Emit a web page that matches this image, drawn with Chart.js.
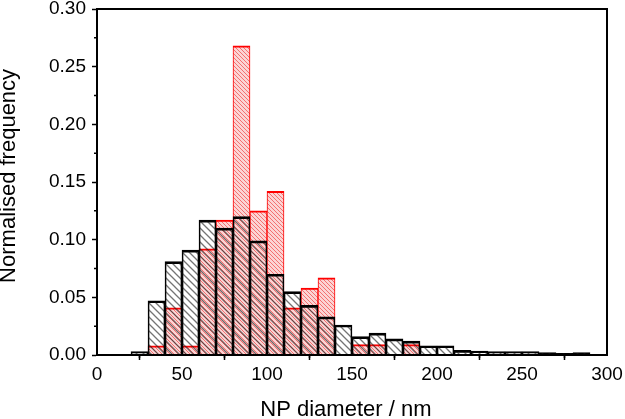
<!DOCTYPE html>
<html>
<head>
<meta charset="utf-8">
<script src="https://cdn.jsdelivr.net/npm/chart.js@4.4.1/dist/chart.umd.min.js"></script>
<style>
  html, body { margin: 0; padding: 0; background: #fff; }
  #wrap { width: 625px; height: 419px; }
</style>
</head>
<body>
<div id="wrap"><canvas id="histChart" width="625" height="419"></canvas></div>
<script>
// Histogram of NP diameters, 10 nm bins

const binStarts = [20, 30, 40, 50, 60, 70, 80, 90, 100, 110, 120, 130, 140, 150, 160, 170, 180, 190, 200, 210, 220, 230, 240, 250, 260, 270, 280];
const blackFreq = [0.003, 0.047, 0.081, 0.091, 0.117, 0.110, 0.120, 0.099, 0.070, 0.055, 0.043, 0.033, 0.026, 0.016, 0.019, 0.014, 0.012, 0.008, 0.008, 0.004, 0.0035, 0.003, 0.003, 0.003, 0.002, 0.0015, 0.002];
const redFreq   = [0, 0.008, 0.041, 0.008, 0.092, 0.117, 0.268, 0.125, 0.142, 0.041, 0.058, 0.067, 0, 0.009, 0.009, 0, 0.009, 0, 0, 0, 0, 0, 0, 0, 0, 0, 0];
const binWidth = 10;

const xTicks = [0, 50, 100, 150, 200, 250, 300];
const yTicks = [0, 0.05, 0.10, 0.15, 0.20, 0.25, 0.30];

// hatch pattern "\\" lines
function makeHatch(size, lineColor, bgColor, lineW) {
  const c = document.createElement('canvas');
  c.width = size;
  c.height = size;
  const g = c.getContext('2d');
  if (bgColor) {
    g.fillStyle = bgColor;
    g.fillRect(0, 0, size, size);
  }
  g.strokeStyle = lineColor;
  g.lineWidth = lineW;
  g.beginPath();
  g.moveTo(0, 0); g.lineTo(size, size);
  g.moveTo(-1, size - 1); g.lineTo(1, size + 1);
  g.moveTo(size - 1, -1); g.lineTo(size + 1, 1);
  g.stroke();
  return g.createPattern(c, 'repeat');
}

// black hatch is see-through so the red bars show underneath
const blackHatch = makeHatch(7, 'rgba(30,30,30,0.62)', null, 1.3);
const redHatch = makeHatch(4, 'rgba(240,80,80,0.75)', 'rgb(252,212,212)', 1);

const toPoints = vals => binStarts.map((s, i) => ({ x: s + binWidth / 2, y: vals[i] }));

// minor ticks + frame
const framePlugin = {
  id: 'frame',
  afterDraw(chart) {
    const { ctx, chartArea: a, scales } = chart;
    ctx.save();
    ctx.strokeStyle = '#000';
    ctx.lineWidth = 2;
    ctx.strokeRect(a.left, a.top, a.right - a.left, a.bottom - a.top);
    ctx.lineWidth = 1.5;
    ctx.beginPath();
    for (let v = 25; v < 300; v += 50) {
      const px = scales.x.getPixelForValue(v);
      ctx.moveTo(px, a.bottom);
      ctx.lineTo(px, a.bottom + 3);
    }
    for (let v = 0.025; v < 0.3; v += 0.05) {
      const py = scales.y.getPixelForValue(v);
      ctx.moveTo(a.left, py);
      ctx.lineTo(a.left - 3, py);
    }
    ctx.stroke();
    ctx.restore();
  }
};

const tickFont = { family: '"Liberation Sans", Arial, sans-serif', size: 19 };
const titleFont = { family: '"Liberation Sans", Arial, sans-serif', size: 22, lineHeight: 1 };

new Chart(document.getElementById('histChart'), {
  type: 'bar',
  data: {
    datasets: [
      {
        label: 'black',
        data: toPoints(blackFreq),
        backgroundColor: blackHatch,
        borderColor: '#000000',
        borderWidth: { top: 2, left: 1, right: 1, bottom: 0 },
        borderSkipped: false
      },
      {
        label: 'red',
        data: toPoints(redFreq),
        backgroundColor: redHatch,
        borderColor: '#ff0000',
        borderWidth: { top: 2, left: 1, right: 1, bottom: 0 },
        borderSkipped: false
      }
    ]
  },
  options: {
    responsive: false,
    animation: false,
    events: [],
    layout: { padding: { top: 9, right: 18, left: 0, bottom: 0 } },
    datasets: {
      bar: { grouped: false, barPercentage: 1, categoryPercentage: 1 }
    },
    plugins: {
      legend: { display: false },
      tooltip: { enabled: false }
    },
    scales: {
      x: {
        type: 'linear',
        min: 0,
        max: 300,
        offset: false,
        afterBuildTicks: scale => { scale.ticks = xTicks.map(v => ({ value: v })); },
        afterFit: scale => { scale.height = 64; scale.paddingLeft = 0; scale.paddingRight = 0; },
        ticks: { color: '#000', font: tickFont, padding: 3, maxRotation: 0 },
        grid: { drawOnChartArea: false, color: '#000', tickLength: 5, tickWidth: 1.5 },
        border: { color: '#000', width: 2 },
        title: { display: true, text: 'NP diameter / nm  ', color: '#000', font: titleFont, padding: { top: 0, bottom: -2 } }
      },
      y: {
        min: 0,
        max: 0.3,
        afterBuildTicks: scale => { scale.ticks = yTicks.map(v => ({ value: v })); },
        afterFit: scale => { scale.width = 97; scale.paddingTop = 0; scale.paddingBottom = 0; },
        ticks: { color: '#000', font: tickFont, padding: 6, callback: v => v.toFixed(2) },
        grid: { drawOnChartArea: false, color: '#000', tickLength: 5, tickWidth: 1.5 },
        border: { color: '#000', width: 2 },
        title: { display: true, text: '  Normalised frequency', color: '#000', font: titleFont, padding: { top: -2, bottom: 0 } }
      }
    }
  },
  plugins: [framePlugin]
});
</script>
</body>
</html>
